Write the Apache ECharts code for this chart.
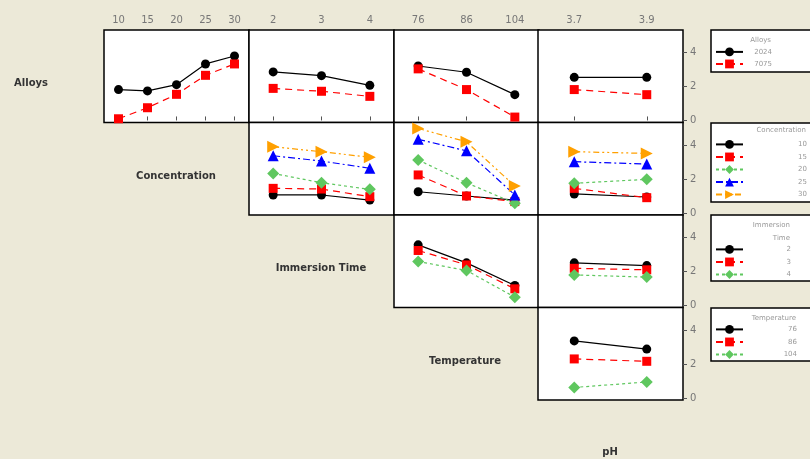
<!DOCTYPE html>
<html>
<head>
<meta charset="utf-8">
<script src="https://cdn.jsdelivr.net/npm/echarts@6/dist/echarts.min.js"></script>
<style>
  html, body { margin: 0; padding: 0; background: #ece9d8; }
  #chart { width: 810px; height: 459px; }
</style>
</head>
<body>
<div id="chart"></div>
<script>
// factor levels
const alloys = ['2024', '7075'];
const concentration = ['10', '15', '20', '25', '30'];
const immersionTime = ['2', '3', '4'];
const temperature = ['76', '86', '104'];
const pH = ['3.7', '3.9'];
const factorNames = ['Alloys', 'Concentration', 'Immersion Time', 'Temperature', 'pH'];
const yTicks = [0, 2, 4];

// means, one row per level of the trace factor
const alloysByConc = [[1.82, 1.74, 2.11, 3.33, 3.80], [0.10, 0.75, 1.54, 2.66, 3.33]];
const alloysByTime = [[2.86, 2.64, 2.07], [1.89, 1.72, 1.42]];
const alloysByTemp = [[3.21, 2.84, 1.52], [3.04, 1.82, 0.20]];
const alloysByPH = [[2.54, 2.54], [1.82, 1.52]];
const concByTime = [[1.06, 1.06, 0.76], [1.45, 1.41, 0.96], [2.33, 1.78, 1.39], [3.37, 3.06, 2.63], [3.90, 3.61, 3.28]];
const concByTemp = [[1.25, 1.00, 0.76], [2.24, 1.00, 0.67], [3.12, 1.78, 0.57], [4.34, 3.66, 1.06], [4.98, 4.19, 1.59]];
const concByPH = [[1.12, 0.94], [1.45, 0.90], [1.75, 1.98], [3.02, 2.88], [3.61, 3.51]];
const timeByTemp = [[3.57, 2.51, 1.18], [3.24, 2.39, 0.98], [2.59, 2.06, 0.49]];
const timeByPH = [[2.51, 2.35], [2.19, 2.10], [1.80, 1.67]];
const tempByPH = [[3.36, 2.88], [2.30, 2.16], [0.62, 0.94]];

const factorLevels = [alloys, concentration, immersionTime, temperature, pH];
const panels = [
  { row: 0, col: 0, means: alloysByConc },
  { row: 0, col: 1, means: alloysByTime },
  { row: 0, col: 2, means: alloysByTemp },
  { row: 0, col: 3, means: alloysByPH },
  { row: 1, col: 1, means: concByTime },
  { row: 1, col: 2, means: concByTemp },
  { row: 1, col: 3, means: concByPH },
  { row: 2, col: 2, means: timeByTemp },
  { row: 2, col: 3, means: timeByPH },
  { row: 3, col: 3, means: tempByPH }
];

// layout
const colLeft = [104, 249, 394, 538];
const colWidth = 145;
const rowTop = [30, 122.5, 215, 307.5];
const rowHeight = 92.5;
const styles = [
  { color: '#000000', symbol: 'circle', size: 9, dash: 'solid' },
  { color: '#ff0000', symbol: 'rect', size: 9, dash: [7, 5] },
  { color: '#5fc75f', symbol: 'diamond', size: 12, dash: [3, 3] },
  { color: '#0000ff', symbol: 'triangle', size: 11, dash: [7, 3, 2, 3] },
  { color: '#ffa000', symbol: 'triangle', size: 12, rotate: -90, dash: [6, 3, 2, 3, 2, 3] }
];
const FONT = 'DejaVu Sans';

const grids = [], xAxes = [], yAxes = [], series = [];
panels.forEach((p, i) => {
  grids.push({
    left: colLeft[p.col], top: rowTop[p.row], width: colWidth, height: rowHeight,
    show: true, backgroundColor: '#ffffff', borderColor: '#000000', borderWidth: 1.5
  });
  const topRow = p.row === 0;
  xAxes.push({
    type: 'category', gridIndex: i, position: 'top',
    data: factorLevels[p.col + 1],
    axisLine: { show: false },
    axisTick: { show: topRow, alignWithLabel: true, inside: false, length: 4, lineStyle: { color: '#555' } },
    axisLabel: { show: topRow, color: '#777', fontFamily: FONT, fontSize: 10, margin: 5 },
    splitLine: { show: false }
  });
  const lastCol = p.col === 3;
  yAxes.push({
    type: 'value', gridIndex: i, position: 'right', min: -0.12, max: 5.33,
    axisLine: { show: false },
    axisTick: { show: lastCol, length: 4, customValues: yTicks, lineStyle: { color: '#555' } },
    axisLabel: { show: lastCol, customValues: yTicks, color: '#777', fontFamily: FONT, fontSize: 10, margin: 7 },
    splitLine: { show: false }
  });
  factorLevels[p.row].forEach((lvl, k) => {
    const s = styles[k];
    series.push({
      type: 'line', name: lvl, xAxisIndex: i, yAxisIndex: i,
      data: p.means[k],
      symbol: s.symbol, symbolSize: s.size, symbolRotate: s.rotate || 0,
      itemStyle: { color: s.color },
      lineStyle: { color: s.color, width: 1.2, type: s.dash },
      emphasis: { disabled: true }
    });
  });
});

// legends: one box per trace factor
const legendBoxes = [
  { top: 30, height: 42, itemTop: 47.5, gap: 1.75, textRight: 771, title: ['Alloys'], titleY: [40] },
  { top: 123, height: 79, itemTop: 140, gap: 2.25, textRight: 806, title: ['Concentration'], titleY: [130] },
  { top: 215, height: 66, itemTop: 245, gap: 2.25, textRight: 790, title: ['Immersion', 'Time'], titleY: [225, 238] },
  { top: 308, height: 53, itemTop: 325, gap: 2.25, textRight: 796, title: ['Temperature'], titleY: [318] }
];
const legends = [];
const graphics = [];
legendBoxes.forEach((b, i) => {
  const textW = b.textRight - 747;
  legends.push({
    left: 715, top: b.itemTop, orient: 'vertical', padding: 0,
    itemWidth: 27, itemHeight: 11, itemGap: b.gap + 1.5, selectedMode: false,
    data: factorLevels[i],
    lineStyle: { width: 2 },
    formatter: name => '{t|' + name + '}',
    textStyle: { rich: { t: { width: textW, align: 'right', fontSize: 7, color: '#999', fontFamily: FONT } } }
  });
  graphics.push({
    type: 'rect', shape: { x: 711, y: b.top, width: 110, height: b.height },
    style: { fill: '#ffffff', stroke: '#000000', lineWidth: 1.5 }, z: -1
  });
  b.title.forEach((t, j) => {
    graphics.push({
      type: 'text', x: b.textRight, y: b.titleY[j],
      style: { text: t, fontSize: 7, fill: '#999', fontFamily: FONT, align: 'right', verticalAlign: 'middle' }
    });
  });
});

// factor names on the diagonal
const nameSpots = [[31, 83], [176, 176], [321, 268], [465, 361], [610, 452]];
factorNames.forEach((n, i) => {
  graphics.push({
    type: 'text', x: nameSpots[i][0], y: nameSpots[i][1],
    style: { text: n, fontSize: 10, fontWeight: 'bold', fill: '#333', fontFamily: FONT, align: 'center', verticalAlign: 'middle' }
  });
});

const chart = echarts.init(document.getElementById('chart'));
chart.setOption({
  backgroundColor: '#ece9d8',
  animation: false,
  tooltip: { show: false },
  grid: grids,
  xAxis: xAxes,
  yAxis: yAxes,
  legend: legends,
  graphic: graphics,
  series: series
});
</script>
</body>
</html>
